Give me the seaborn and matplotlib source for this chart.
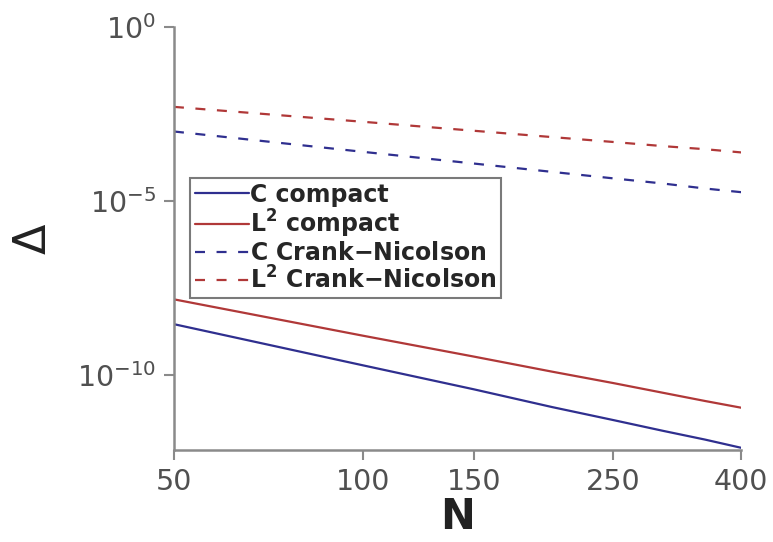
import matplotlib
matplotlib.use("Agg")
import matplotlib.pyplot as plt
import matplotlib.ticker as mticker
import pandas as pd
import seaborn as sns

N = [50, 100, 150, 200, 250, 300, 350, 400]
c_compact = [2.9e-9, 1.9e-10, 3.9e-11, 1.2e-11, 5.1e-12, 2.5e-12, 1.4e-12, 8.1e-13]
l2_compact = [1.5e-8, 1.35e-9, 3.4e-10, 1.25e-10, 5.9e-11, 3.1e-11, 1.8e-11, 1.15e-11]
c_cn = [1.0e-3, 2.6e-4, 1.2e-4, 6.9e-5, 4.5e-5, 3.2e-5, 2.3e-5, 1.8e-5]
l2_cn = [5.1e-3, 1.9e-3, 1.05e-3, 6.9e-4, 5.0e-4, 3.8e-4, 3.1e-4, 2.5e-4]

labels = [r"C compact", r"$\mathbf{L^2}$ compact",
          r"C Crank$\mathbf{-}$Nicolson", r"$\mathbf{L^2}$ Crank$\mathbf{-}$Nicolson"]
series = [c_compact, l2_compact, c_cn, l2_cn]

df = pd.concat([pd.DataFrame({"N": N, "err": s, "method": lab})
                for s, lab in zip(series, labels)])

sns.set_style("white")
plt.rcParams["font.family"] = ["DejaVu Sans"]

blue = "#2f2f8f"
red = "#b03838"
palette = {labels[0]: blue, labels[1]: red, labels[2]: blue, labels[3]: red}
dashes = {labels[0]: "", labels[1]: "", labels[2]: (4.5, 5.2), labels[3]: (4.5, 5.2)}

fig = plt.figure(figsize=(7.73, 5.42), dpi=100)
ax = fig.add_axes([0.225, 0.170, 0.734, 0.780])
sns.lineplot(data=df, x="N", y="err", hue="method", style="method",
             palette=palette, dashes=dashes, linewidth=1.6, ax=ax)

ax.set_xscale("log")
ax.set_yscale("log")
ax.set_xlim(50, 400)
ax.set_ylim(10 ** -12.15, 1)
ax.set_xticks([50, 100, 150, 250, 400])
ax.xaxis.set_major_formatter(mticker.FixedFormatter(["50", "100", "150", "250", "400"]))
ax.xaxis.set_minor_locator(mticker.NullLocator())
ax.set_yticks([1e0, 1e-5, 1e-10])
ax.yaxis.set_minor_locator(mticker.NullLocator())

for side in ["top", "right"]:
    ax.spines[side].set_visible(False)
for side in ["left", "bottom"]:
    ax.spines[side].set_color("#8a8a8a")
    ax.spines[side].set_linewidth(1.8)
ax.tick_params(axis="both", which="major", direction="out", length=7, width=1.5,
               bottom=True, left=True,
               color="#8a8a8a", labelcolor="#505050", labelsize=20.5, pad=6)

ax.set_xlabel("N", fontsize=30, fontweight="bold", color="#222222", labelpad=0)
ax.set_ylabel("Δ", fontsize=32, color="#222222", labelpad=16)

leg = ax.legend(loc="upper left", bbox_to_anchor=(0.028, 0.643), frameon=True,
                fancybox=False, prop={"weight": "bold", "size": 17},
                handlelength=2.3, handletextpad=0.05, labelspacing=0.05,
                borderpad=0.2, borderaxespad=0)
leg.get_frame().set_edgecolor("#7a7a7a")
leg.get_frame().set_linewidth(1.5)
leg.get_frame().set_alpha(1)

fig.savefig("out.png", dpi=100)
